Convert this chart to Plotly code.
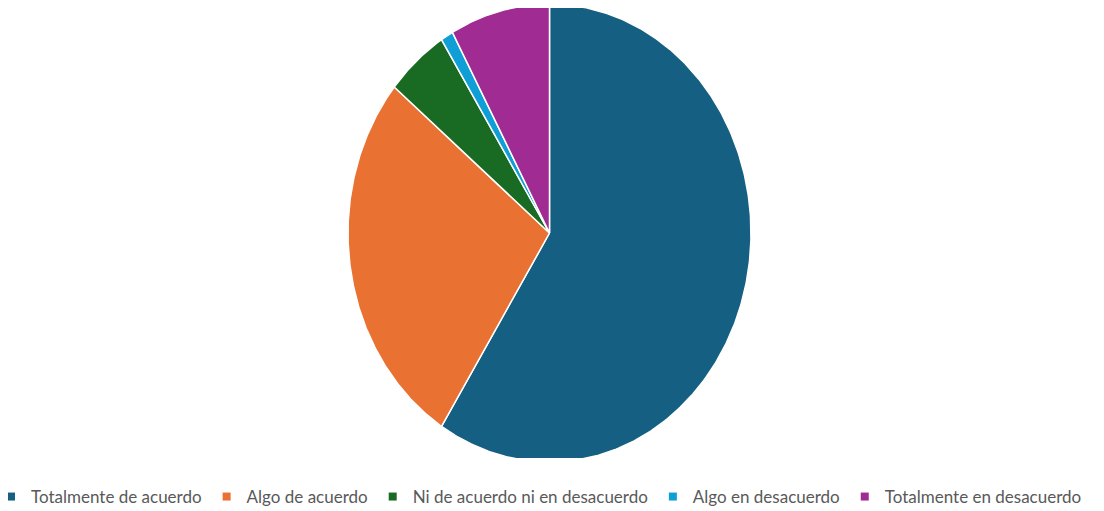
import numpy as np
import plotly.graph_objects as go

categories = ["Totalmente de acuerdo", "Algo de acuerdo", "Ni de acuerdo ni en desacuerdo",
              "Algo en desacuerdo", "Totalmente en desacuerdo"]
values = [59, 27, 5, 1, 8]
colors = ["#156082", "#E97132", "#196B24", "#0F9ED5", "#A02B93"]

total = float(sum(values))
fig = go.Figure()

# Slices drawn as filled wedges on a unit circle; axes scaling produces the elliptical look
start = 0.0
for cat, val, col in zip(categories, values, colors):
    frac = val / total
    end = start + frac
    n = max(3, int(frac * 720))
    th = np.linspace(start, end, n) * 2 * np.pi
    xs = np.concatenate([[0], np.sin(th), [0]])
    ys = np.concatenate([[0], np.cos(th), [0]])
    fig.add_trace(go.Scatter(
        x=xs, y=ys, mode="lines", fill="toself", fillcolor=col,
        line=dict(color="white", width=1.5), name=cat, legendgroup=cat,
        showlegend=False, hoverinfo="name"))
    start = end

for cat, col in zip(categories, colors):
    fig.add_trace(go.Scatter(
        x=[None], y=[None], mode="markers", name=cat, legendgroup=cat,
        marker=dict(symbol="square", size=8, color=col)))

W, H = 1096, 503
PH = 450
fig.update_layout(
    width=W, height=H,
    margin=dict(l=0, r=0, t=0, b=H - PH, autoexpand=False),
    paper_bgcolor="white", plot_bgcolor="white",
    xaxis=dict(range=[-541.5 / 201.5, (W - 541.5) / 201.5], visible=False, fixedrange=True),
    yaxis=dict(range=[-225 / 229, 225 / 229], visible=False, fixedrange=True),
    showlegend=True,
    legend=dict(orientation="h", xref="paper", yref="paper",
                x=-0.0155, xanchor="left", y=-(489 - PH) / PH, yanchor="middle",
                font=dict(family="Lato, Open Sans, sans-serif", size=17, color="#595959"),
                itemwidth=30, tracegroupgap=0),
)

fig.write_html("out.html")
